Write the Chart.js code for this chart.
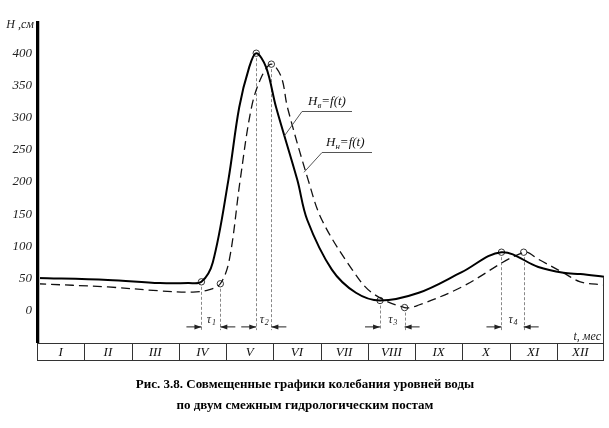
<!DOCTYPE html>
<html><head><meta charset="utf-8">
<script src="https://cdn.jsdelivr.net/npm/chart.js@4/dist/chart.umd.min.js"></script>
<style>html,body{margin:0;padding:0;background:#fff}#wrap{width:609px;height:428px}</style>
</head><body><div id="wrap"><canvas id="c" width="609" height="428"></canvas></div>
<script>
const months = ['I','II','III','IV','V','VI','VII','VIII','IX','X','XI','XII'];
const yTicks = [0,50,100,150,200,250,300,350,400];
// upper post (solid) H_в
const upperT = [0, 1.5, 2.6, 3.2, 3.48, 3.72, 4.05, 4.28, 4.49, 4.64, 4.85, 5.06, 5.51, 5.72, 6.24, 6.75, 7.26, 8.08, 8.99, 9.83, 10.61, 11.14, 11.5, 12];
const upperH = [51, 48, 43, 43, 45, 75, 203, 316, 378, 400, 378, 316, 203, 141, 64, 28, 16, 28, 60, 91, 68, 59, 57, 53];
// lower post (dashed) H_н
const lowerT = [0, 1.5, 2.6, 3.3, 3.65, 3.88, 4.07, 4.30, 4.54, 4.75, 4.96, 5.17, 5.30, 5.74, 6.03, 6.67, 7.09, 7.78, 8.08, 8.99, 10.30, 10.61, 11.14, 11.5, 12];
const lowerH = [42, 37, 31, 29, 33, 42, 79, 203, 316, 363, 383, 363, 316, 203, 141, 64, 28, 5, 9, 37, 91, 80, 59, 45, 40];
// characteristic points
const upperMarkT = [3.48, 4.64, 7.26, 9.83];
const upperMarkH = [45, 400, 16, 91];
const lowerMarkT = [3.88, 4.96, 7.78, 10.30];
const lowerMarkH = [42, 383, 5, 91];
const tauNames = ['1','2','3','4'];
const captionLines = ['Рис. 3.8. Совмещенные графики колебания уровней воды','по двум смежным гидрологическим постам'];

const pts = (t,h) => t.map((v,i)=>({x:v,y:h[i]}));
const SERIF = '"Liberation Serif","DejaVu Serif",serif';

const deco = {
  id:'deco',
  beforeDatasetsDraw(chart){
    const {ctx, scales:{x,y}} = chart;
    ctx.save();
    ctx.strokeStyle = '#888'; ctx.lineWidth = 1; ctx.setLineDash([3,2]);
    const yEnd = y.getPixelForValue(-30);
    const drawV = (t,h)=>{ const px=Math.round(x.getPixelForValue(t))+0.5; ctx.beginPath(); ctx.moveTo(px,y.getPixelForValue(h)); ctx.lineTo(px,yEnd); ctx.stroke(); };
    upperMarkT.forEach((t,i)=>drawV(t,upperMarkH[i]));
    lowerMarkT.forEach((t,i)=>drawV(t,lowerMarkH[i]));
    ctx.restore();
  },
  afterDatasetsDraw(chart){
    const {ctx, chartArea:a, scales:{x,y}} = chart;
    ctx.save();
    // month strip
    const sTop = y.getPixelForValue(-50), sBot = sTop + 17;
    ctx.strokeStyle = '#333'; ctx.lineWidth = 1;
    ctx.strokeRect(a.left+0.5, Math.round(sTop)+0.5, a.right-a.left-1, sBot-sTop);
    ctx.font = 'italic 13px '+SERIF; ctx.fillStyle='#111'; ctx.textAlign='center'; ctx.textBaseline='middle';
    months.forEach((m,i)=>{
      if(i>0){ const px=Math.round(x.getPixelForValue(i))+0.5; ctx.beginPath(); ctx.moveTo(px,sTop); ctx.lineTo(px,sBot); ctx.stroke(); }
      ctx.fillText(m, x.getPixelForValue(i+0.5), (sTop+sBot)/2+1);
    });
    // right edge
    const rx = Math.round(x.getPixelForValue(12))-0.5;
    ctx.beginPath(); ctx.moveTo(rx, y.getPixelForValue(upperH[upperH.length-1])); ctx.lineTo(rx, sTop); ctx.stroke();
    // y axis
    ctx.fillStyle='#000';
    ctx.fillRect(a.left-1, a.top, 3, sTop-a.top);
    ctx.fillStyle='#bbb'; ctx.fillRect(a.left+2, a.top, 1, sTop-a.top);
    ctx.fillStyle='#222'; ctx.textAlign='right'; ctx.font='italic 13px '+SERIF;
    yTicks.forEach(v=>ctx.fillText(String(v), a.left-5, y.getPixelForValue(v)));
    ctx.font='italic 12px '+SERIF;
    ctx.fillText('H ,см', a.left-3, a.top+4);
    ctx.textAlign='right';
    ctx.fillText('t, мес', a.right-3, sTop-6);
    // tau arrows
    const ay = y.getPixelForValue(-25);
    ctx.strokeStyle='#222'; ctx.fillStyle='#222'; ctx.lineWidth=1;
    const arrow=(from,to)=>{ ctx.beginPath(); ctx.moveTo(from,ay); ctx.lineTo(to,ay); ctx.stroke();
      const d = to>from?-1:1; ctx.beginPath(); ctx.moveTo(to,ay); ctx.lineTo(to+d*7,ay-2.5); ctx.lineTo(to+d*7,ay+2.5); ctx.closePath(); ctx.fill(); };
    upperMarkT.forEach((t,i)=>{
      const p1 = x.getPixelForValue(t), p2 = x.getPixelForValue(lowerMarkT[i]);
      arrow(p1-15, p1); arrow(p2+15, p2);
      const cx=(p1+p2)/2;
      ctx.font='italic 12px '+SERIF; ctx.textAlign='center';
      ctx.fillText('τ', cx-2, ay-7);
      ctx.font='italic 8px '+SERIF; ctx.fillText(tauNames[i], cx+3, ay-4);
    });
    // legend labels with leader lines
    const label=(sub, tx, ty, lx1, lx2, endT, endH)=>{
      ctx.strokeStyle='#555'; ctx.lineWidth=1;
      ctx.beginPath(); ctx.moveTo(x.getPixelForValue(endT), y.getPixelForValue(endH));
      ctx.lineTo(lx1, ty+0.5); ctx.lineTo(lx2, ty+0.5); ctx.stroke();
      ctx.fillStyle='#111'; ctx.textAlign='left';
      ctx.font='italic 13px '+SERIF; ctx.fillText('H', tx, ty-9);
      const w=ctx.measureText('H').width;
      ctx.font='italic 9px '+SERIF; ctx.fillText(sub, tx+w, ty-5);
      const w2=ctx.measureText(sub).width;
      ctx.font='italic 13px '+SERIF; ctx.fillText('=f(t)', tx+w+w2, ty-9);
    };
    label('в', 308, 111, 302, 352, 5.24, 272);
    label('н', 326, 152, 322, 372, 5.65, 215);
    // caption
    ctx.fillStyle='#000'; ctx.textAlign='center'; ctx.font='bold 13px '+SERIF;
    ctx.fillText(captionLines[0], 305, 385);
    ctx.fillText(captionLines[1], 305, 406);
    ctx.restore();
  }
};

new Chart(document.getElementById('c'), {
  type:'scatter',
  data:{ datasets:[
    {data:pts(upperT,upperH), showLine:true, borderColor:'#000', borderWidth:2, pointRadius:0, tension:0.35, clip:false},
    {data:pts(lowerT,lowerH), showLine:true, borderColor:'#111', borderWidth:1.3, borderDash:[9,5], pointRadius:0, tension:0.35, clip:false},
    {data:pts(upperMarkT,upperMarkH), showLine:false, pointRadius:3.2, pointBackgroundColor:'#fff', pointBorderColor:'#333', pointBorderWidth:1, clip:false},
    {data:pts(lowerMarkT,lowerMarkH), showLine:false, pointRadius:3.2, pointBackgroundColor:'#fff', pointBorderColor:'#333', pointBorderWidth:1, clip:false}
  ]},
  options:{
    responsive:false, animation:false, devicePixelRatio:1,
    layout:{padding:{left:37,right:3,top:21,bottom:85}},
    plugins:{legend:{display:false}, tooltip:{enabled:false}, title:{display:false}},
    scales:{
      x:{type:'linear', min:0, max:12, display:false},
      y:{type:'linear', min:-50, max:450, display:false}
    }
  },
  plugins:[deco]
});
</script></body></html>
